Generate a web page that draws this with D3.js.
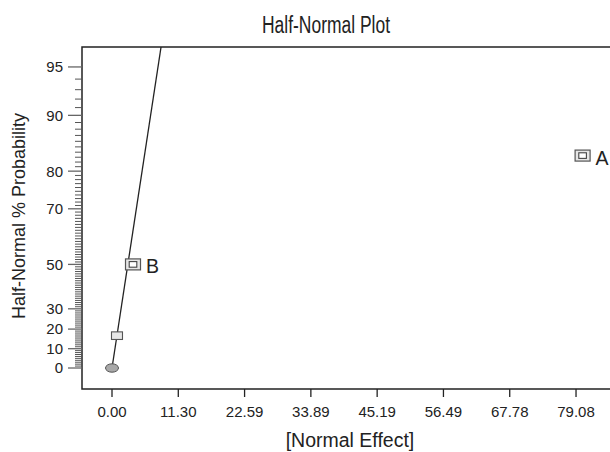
<!DOCTYPE html>
<html>
<head>
<meta charset="utf-8">
<script src="https://cdn.jsdelivr.net/npm/d3@7"></script>
<style>
  body { margin: 0; background: #fff; }
  text { font-family: "Liberation Sans", Arial, Helvetica, sans-serif; fill: #222; }
</style>
</head>
<body>
<div id="chart"></div>
<script>
var svgWidth = 610;
var svgHeight = 452;

// plot frame (the right side runs off the picture)
var frame = { left: 82, top: 47, right: 612, bottom: 389 };

// effects
var effectNames = ["A", "B", "AB"];
var effectValues = [80.2, 3.58, 0.85];
var effectProbs = [83.33, 50, 16.67];
var labelled = [true, true, false];

// error estimate (ellipse)
var errorEffect = [0];
var errorProb = [0];

// fitted line through origin: effect = slope * z
var fitSlope = 4.0;

// axis ticks
var xTickValues = [0, 11.297, 22.594, 33.891, 45.188, 56.485, 67.782, 79.08];
var xTickLabels = ["0.00", "11.30", "22.59", "33.89", "45.19", "56.49", "67.78", "79.08"];
var yMajorTicks = [0, 10, 20, 30, 50, 70, 80, 90, 95];
var yMinorTicks = d3.range(0, 96, 1);

// inverse normal cdf (Acklam)
function probit(p) {
    var a = [-3.969683028665376e+01, 2.209460984245205e+02, -2.759285104469687e+02, 1.383577518672690e+02, -3.066479806614716e+01, 2.506628277459239e+00];
    var b = [-5.447609879822406e+01, 1.615858368580409e+02, -1.556989798598866e+02, 6.680131188771972e+01, -1.328068155288572e+01];
    var c = [-7.784894002430293e-03, -3.223964580411365e-01, -2.400758277161838e+00, -2.549732539343734e+00, 4.374664141464968e+00, 2.938163982698783e+00];
    var d = [7.784695709041462e-03, 3.224671290700398e-01, 2.445134137142996e+00, 3.754408661907416e+00];
    var pl = 0.02425, q, r;
    if (p < pl) {
        q = Math.sqrt(-2 * Math.log(p));
        return (((((c[0]*q+c[1])*q+c[2])*q+c[3])*q+c[4])*q+c[5]) / ((((d[0]*q+d[1])*q+d[2])*q+d[3])*q+1);
    } else if (p <= 1 - pl) {
        q = p - 0.5; r = q * q;
        return (((((a[0]*r+a[1])*r+a[2])*r+a[3])*r+a[4])*r+a[5])*q / (((((b[0]*r+b[1])*r+b[2])*r+b[3])*r+b[4])*r+1);
    }
    q = Math.sqrt(-2 * Math.log(1 - p));
    return -(((((c[0]*q+c[1])*q+c[2])*q+c[3])*q+c[4])*q+c[5]) / ((((d[0]*q+d[1])*q+d[2])*q+d[3])*q+1);
}
// half-normal quantile of a percent
function halfZ(pct) {
    if (pct <= 0) return 0;
    return probit((1 + pct / 100) / 2);
}

var xScale = d3.scaleLinear()
    .domain([-5.113, 84.87])
    .range([82, 610]);

var zScale = d3.scaleLinear()
    .domain([-0.1367, 2.0898])
    .range([389, 47]);

function yPos(pct) { return zScale(halfZ(pct)); }

var svg = d3.select("#chart").append("svg")
    .attr("width", svgWidth)
    .attr("height", svgHeight);

// title
svg.append("text")
    .attr("x", 326)
    .attr("y", 33)
    .attr("text-anchor", "middle")
    .attr("font-size", 23)
    .attr("textLength", 128)
    .attr("lengthAdjust", "spacingAndGlyphs")
    .text("Half-Normal Plot");

// fitted line, clipped to frame
svg.append("clipPath").attr("id", "clip")
    .append("rect")
    .attr("x", frame.left).attr("y", frame.top)
    .attr("width", frame.right - frame.left).attr("height", frame.bottom - frame.top);

var zTop = zScale.domain()[1];
svg.append("line")
    .attr("clip-path", "url(#clip)")
    .attr("x1", xScale(0)).attr("y1", zScale(0))
    .attr("x2", xScale(fitSlope * zTop)).attr("y2", zScale(zTop))
    .attr("stroke", "#222")
    .attr("stroke-width", 1.3);

// frame: left, top, bottom
svg.append("path")
    .attr("d", `M${frame.right},${frame.top}H${frame.left}V${frame.bottom}H${frame.right}`)
    .attr("fill", "none")
    .attr("stroke", "#222")
    .attr("stroke-width", 1.5);

// y axis ticks
svg.selectAll(".yminor")
    .data(yMinorTicks.filter(d => yMajorTicks.indexOf(d) < 0))
    .enter().append("line")
    .attr("x1", 75).attr("x2", frame.left)
    .attr("y1", d => yPos(d)).attr("y2", d => yPos(d))
    .attr("stroke", "#555")
    .attr("stroke-width", 1);

svg.selectAll(".ymajor")
    .data(yMajorTicks)
    .enter().append("line")
    .attr("x1", 68).attr("x2", frame.left)
    .attr("y1", d => yPos(d)).attr("y2", d => yPos(d))
    .attr("stroke", "#666")
    .attr("stroke-width", 1.3);

svg.selectAll(".ylabel")
    .data(yMajorTicks)
    .enter().append("text")
    .attr("x", 63)
    .attr("y", d => yPos(d))
    .attr("dy", "0.36em")
    .attr("text-anchor", "end")
    .attr("font-size", 15)
    .text(d => d);

// x axis ticks
svg.selectAll(".xtick")
    .data(xTickValues)
    .enter().append("line")
    .attr("x1", d => xScale(d)).attr("x2", d => xScale(d))
    .attr("y1", frame.bottom).attr("y2", frame.bottom + 8)
    .attr("stroke", "#222")
    .attr("stroke-width", 1.3);

svg.selectAll(".xlabel")
    .data(xTickValues)
    .enter().append("text")
    .attr("x", d => xScale(d))
    .attr("y", 417)
    .attr("text-anchor", "middle")
    .attr("font-size", 15)
    .text((d, i) => xTickLabels[i]);

// axis titles
svg.append("text")
    .attr("x", 350)
    .attr("y", 447)
    .attr("text-anchor", "middle")
    .attr("font-size", 19.5)
    .text("[Normal Effect]");

svg.append("text")
    .attr("transform", "translate(25,216) rotate(-90)")
    .attr("text-anchor", "middle")
    .attr("font-size", 18)
    .text("Half-Normal % Probability");

// error ellipse
svg.selectAll(".err")
    .data(errorEffect)
    .enter().append("ellipse")
    .attr("cx", d => xScale(d))
    .attr("cy", (d, i) => yPos(errorProb[i]))
    .attr("rx", 6.5)
    .attr("ry", 4.2)
    .attr("fill", "#a9a9a9")
    .attr("stroke", "#555")
    .attr("stroke-width", 1);

// effect points
var pts = effectValues.map((v, i) => ({ name: effectNames[i], x: v, p: effectProbs[i], lab: labelled[i] }));

pts.forEach(function(d) {
    var cx = xScale(d.x), cy = yPos(d.p);
    if (d.lab) {
        svg.append("rect")
            .attr("x", cx - 7.5).attr("y", cy - 5.5)
            .attr("width", 15).attr("height", 11)
            .attr("fill", "#e6e6e6")
            .attr("stroke", "#555")
            .attr("stroke-width", 1.2);
        svg.append("rect")
            .attr("x", cx - 3.8).attr("y", cy - 2.8)
            .attr("width", 7.6).attr("height", 5.6)
            .attr("fill", "#fff")
            .attr("stroke", "#444")
            .attr("stroke-width", 1.1);
        svg.append("text")
            .attr("x", cx + 13)
            .attr("y", cy + 9)
            .attr("font-size", 19.5)
            .text(d.name);
    } else {
        svg.append("rect")
            .attr("x", cx - 5.5).attr("y", cy - 3.8)
            .attr("width", 11).attr("height", 7.6)
            .attr("fill", "#e6e6e6")
            .attr("stroke", "#555")
            .attr("stroke-width", 1.1);
    }
});
</script>
</body>
</html>
